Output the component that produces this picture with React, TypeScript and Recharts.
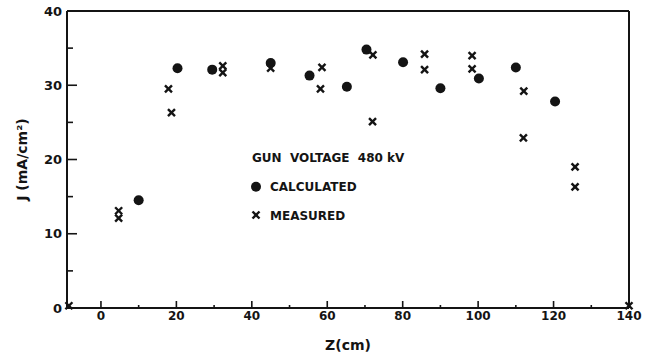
import React from 'react';
import { ScatterChart, Scatter, XAxis, YAxis, Legend } from 'recharts';

// Calculated current density (filled circles)
const calcZ = [10, 20.3, 29.5, 45, 55.3, 65.2, 70.4, 80.1, 90, 100.2, 110, 120.4];
const calcJ = [14.5, 32.3, 32.1, 33.0, 31.3, 29.8, 34.8, 33.1, 29.6, 30.9, 32.4, 27.8];

// Measured current density (X marks)
const measZ = [-8.5, 4.7, 4.7, 17.9, 18.7, 32.3, 32.3, 45, 58.6, 58.2, 72.1, 72, 85.8, 85.8, 98.4, 98.4, 112.1, 112, 125.7, 125.7, 140];
const measJ = [0.3, 13.1, 12.1, 29.5, 26.3, 32.6, 31.7, 32.3, 32.4, 29.5, 34.1, 25.1, 34.2, 32.1, 34.0, 32.2, 29.2, 22.9, 19.0, 16.3, 0.3];

const zTicks = [0, 10, 20, 30, 40, 50, 60, 70, 80, 90, 100, 110, 120, 130, 140];
const jTicks = [0, 5, 10, 15, 20, 25, 30, 35, 40];

const calcData = calcZ.map((z, i) => ({ z, j: calcJ[i] }));
const measData = measZ.map((z, i) => ({ z, j: measJ[i] }));

const ink = '#141414';
const FONT = '"DejaVu Sans", Verdana, sans-serif';

const BottomTick = (props: any) => {
  const { x, y, payload } = props;
  const v = payload.value;
  const major = v % 20 === 0;
  return (
    <g>
      <line x1={x} x2={x} y1={y} y2={y - (major ? 7 : 3)} stroke={ink} strokeWidth={1.6} />
      {major && (
        <text x={x} y={y + 12} textAnchor="middle" fontFamily={FONT} fontWeight="bold" fontSize={12} fill={ink}>
          {v}
        </text>
      )}
    </g>
  );
};

const TopTick = (props: any) => {
  const { x, y } = props;
  return <line x1={x} x2={x} y1={y} y2={y + 4} stroke={ink} strokeWidth={1.6} />;
};

const LeftTick = (props: any) => {
  const { x, y, payload } = props;
  const v = payload.value;
  const major = v % 10 === 0;
  return (
    <g>
      <line x1={x} x2={x + (major ? 10 : 6)} y1={y} y2={y} stroke={ink} strokeWidth={1.6} />
      {major && (
        <text x={x - 5} y={y + 4.5} textAnchor="end" fontFamily={FONT} fontWeight="bold" fontSize={13} fill={ink}>
          {v}
        </text>
      )}
    </g>
  );
};

const RightTick = (props: any) => {
  const { x, y } = props;
  return <line x1={x - 4} x2={x} y1={y} y2={y} stroke={ink} strokeWidth={1.6} />;
};

const Dot = (props: any) => {
  const { cx, cy } = props;
  return <circle cx={cx} cy={cy} r={5} fill={ink} />;
};

const Cross = (props: any) => {
  const { cx, cy } = props;
  const h = 3.5;
  return (
    <g stroke={ink} strokeWidth={2.4}>
      <line x1={cx - h} y1={cy - h} x2={cx + h} y2={cy + h} />
      <line x1={cx - h} y1={cy + h} x2={cx + h} y2={cy - h} />
    </g>
  );
};

const LegendBox = () => (
  <svg width={200} height={85} style={{ overflow: 'visible', display: 'block' }}>
    <text x={7} y={17} fontFamily={FONT} fontWeight="bold" fontSize={12} fill={ink} style={{ whiteSpace: 'pre' }}>
      {'GUN  VOLTAGE  480 kV'}
    </text>
    <circle cx={11} cy={41.7} r={5} fill={ink} />
    <text x={25} y={46} fontFamily={FONT} fontWeight="bold" fontSize={12} fill={ink}>CALCULATED</text>
    <g stroke={ink} strokeWidth={2.4}>
      <line x1={7.5} y1={66.5} x2={14.5} y2={73.5} />
      <line x1={7.5} y1={73.5} x2={14.5} y2={66.5} />
    </g>
    <text x={25} y={74.5} fontFamily={FONT} fontWeight="bold" fontSize={12} fill={ink}>MEASURED</text>
  </svg>
);

const YTitle = (props: any) => {
  const { viewBox } = props;
  const cx = 22;
  const cy = viewBox.y + viewBox.height / 2;
  return (
    <text x={cx} y={cy} transform={`rotate(-90 ${cx} ${cy})`} textAnchor="middle" dominantBaseline="central"
      fontFamily={FONT} fontWeight="bold" fontSize={14} fill={ink}>
      J (mA/cm²)
    </text>
  );
};

const XTitle = (props: any) => {
  const { viewBox } = props;
  const cx = viewBox.x + viewBox.width / 2;
  return (
    <text x={cx} y={viewBox.y + 42} textAnchor="middle" fontFamily={FONT} fontWeight="bold" fontSize={14} fill={ink}>
      Z(cm)
    </text>
  );
};

export default function App() {
  return (
    <div style={{ position: 'absolute', left: 0, top: 0, width: 651, height: 360, background: '#fff' }}>
      <ScatterChart width={651} height={360} margin={{ top: 10, right: 21, bottom: 0, left: 0 }}>
        <XAxis
          type="number"
          dataKey="z"
          domain={[-9, 140]}
          ticks={zTicks}
          interval={0}
          height={52}
          tickSize={0}
          tickMargin={0}
          tick={BottomTick}
          axisLine={{ stroke: ink, strokeWidth: 2 }}
          tickLine={false}
          label={<XTitle />}
        />
        <XAxis
          xAxisId="top"
          orientation="top"
          type="number"
          domain={[-9, 140]}
          ticks={zTicks}
          interval={0}
          height={1}
          tickSize={0}
          tickMargin={0}
          tick={TopTick}
          axisLine={{ stroke: ink, strokeWidth: 2 }}
          tickLine={false}
        />
        <YAxis
          type="number"
          dataKey="j"
          domain={[0, 40]}
          ticks={jTicks}
          interval={0}
          width={67}
          tickSize={0}
          tickMargin={0}
          tick={LeftTick}
          axisLine={{ stroke: ink, strokeWidth: 2 }}
          tickLine={false}
          label={<YTitle />}
        />
        <YAxis
          yAxisId="right"
          orientation="right"
          type="number"
          domain={[0, 40]}
          ticks={jTicks}
          interval={0}
          width={1}
          tickSize={0}
          tickMargin={0}
          tick={RightTick}
          axisLine={{ stroke: ink, strokeWidth: 2 }}
          tickLine={false}
        />
        <Legend
          layout="vertical"
          align="center"
          verticalAlign="middle"
          wrapperStyle={{ position: 'absolute', left: 245, top: 145, width: 200, height: 85 }}
          content={() => <LegendBox />}
        />
        <Scatter name="CALCULATED" data={calcData} shape={Dot} isAnimationActive={false} />
        <Scatter name="MEASURED" data={measData} shape={Cross} isAnimationActive={false} />
      </ScatterChart>
    </div>
  );
}
